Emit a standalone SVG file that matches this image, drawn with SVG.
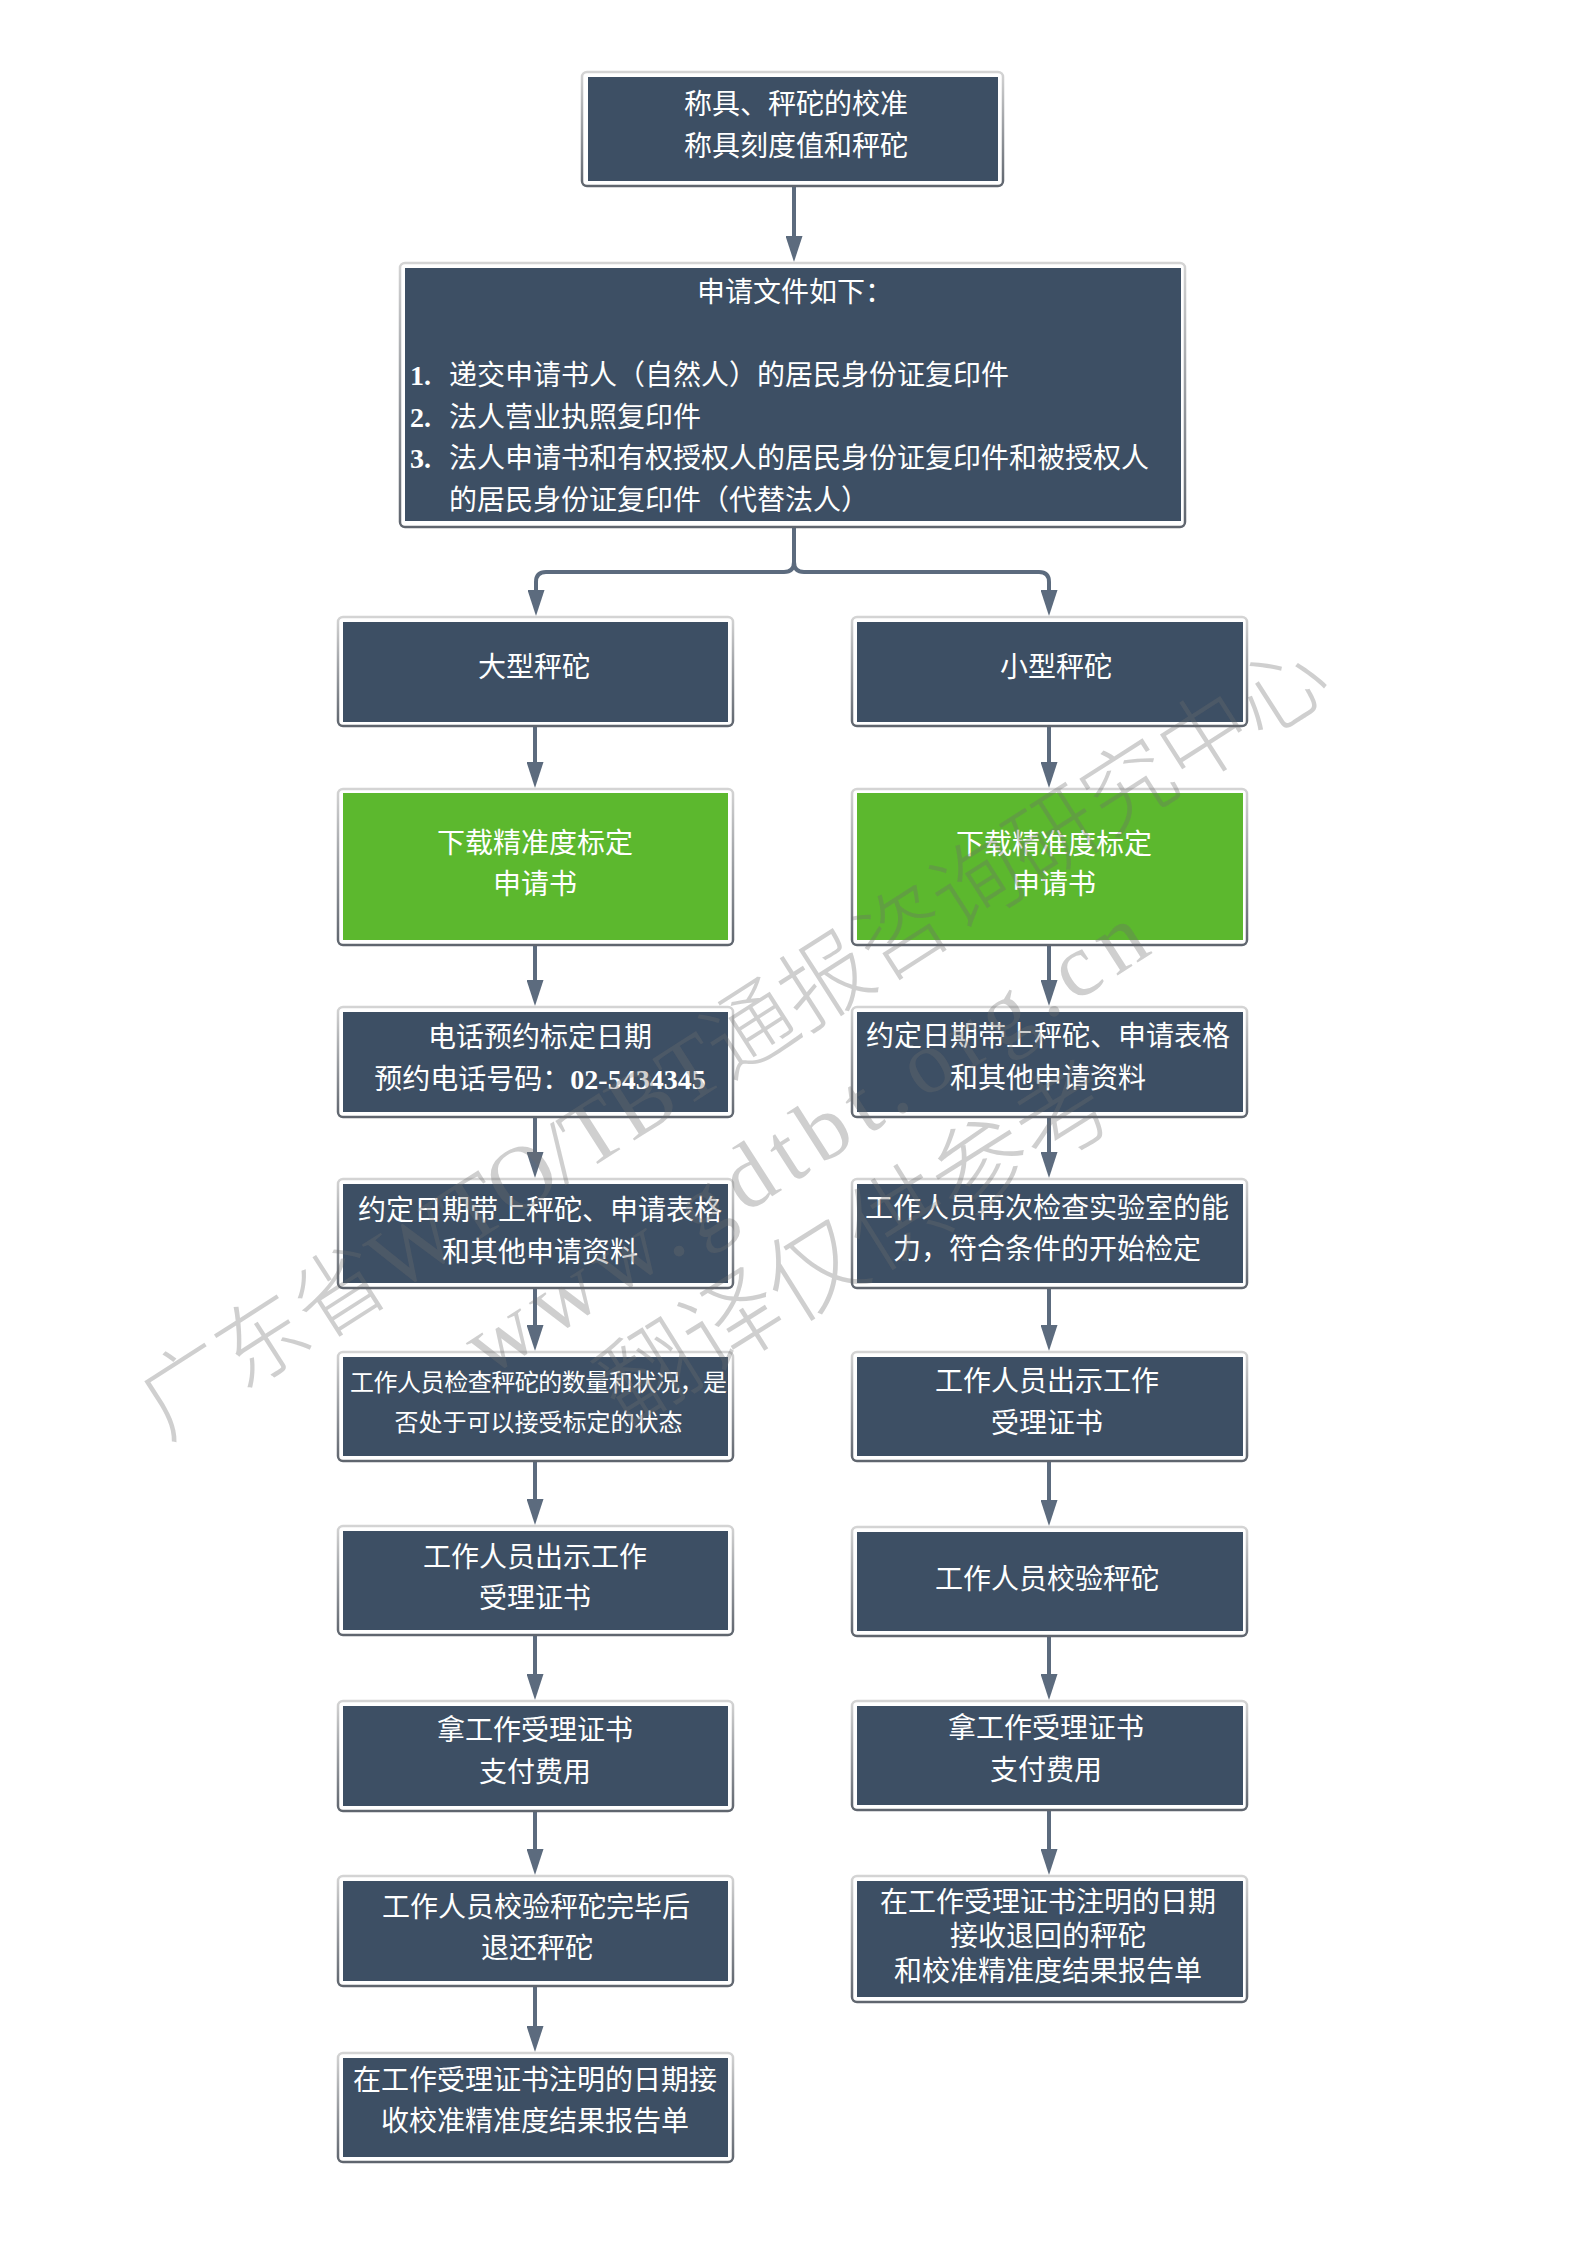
<svg xmlns="http://www.w3.org/2000/svg" width="1587" height="2245" viewBox="0 0 1587 2245">
<style>
.o{fill:#fff;stroke:url(#edge);stroke-width:2.5}
.d{fill:#3d4f64}
.g{fill:#5cb82e}
text{font-family:"Liberation Serif","Noto Sans CJK SC",sans-serif;font-size:28px;fill:#fff}
.c{text-anchor:middle}
.s{font-size:24px}
.n{font-weight:bold}
.l{fill:none;stroke:#5c6b7e;stroke-width:4;marker-end:url(#arr)}
.wm text{fill:#6e6e6e;fill-opacity:.33;font-size:90px;font-weight:300}
</style>
<defs>
<linearGradient id="edge" x1="0" y1="0" x2="0" y2="1"><stop offset="0" stop-color="#d4d4d4"/><stop offset="1" stop-color="#5f656e"/></linearGradient>
<marker id="arr" markerUnits="userSpaceOnUse" markerWidth="26" markerHeight="17" refX="0" refY="8.5" orient="auto"><path d="M0,0L26,8.5L0,17Z" fill="#5c6b7e"/></marker>
</defs>
<rect width="1587" height="2245" fill="#fff"/>
<g id="connectors">
<path class="l" d="M794,187V236"/>
<path class="l" d="M794,528V562Q794,572 784,572H546Q536,572 536,582V590"/>
<path class="l" d="M794,528V562Q794,572 804,572H1039Q1049,572 1049,582V590"/>
<path class="l" d="M535,727V762"/>
<path class="l" d="M535,946V980"/>
<path class="l" d="M535,1118V1152"/>
<path class="l" d="M535,1289V1325"/>
<path class="l" d="M535,1462V1499"/>
<path class="l" d="M535,1636V1674"/>
<path class="l" d="M535,1812V1849"/>
<path class="l" d="M535,1987V2026"/>
<path class="l" d="M1049,727V762"/>
<path class="l" d="M1049,946V980"/>
<path class="l" d="M1049,1118V1152"/>
<path class="l" d="M1049,1289V1325"/>
<path class="l" d="M1049,1462V1500"/>
<path class="l" d="M1049,1637V1674"/>
<path class="l" d="M1049,1811V1849"/>
</g>
<g id="n1"><rect class="o" x="582" y="72" width="421" height="114" rx="5"/><rect class="d" x="588" y="77" width="410" height="104"/>
<text class="c" x="796" y="114">称具、秤砣的校准</text><text class="c" x="796" y="156">称具刻度值和秤砣</text></g>
<g id="n2"><rect class="o" x="400" y="263" width="785" height="264" rx="5"/><rect class="d" x="405" y="268" width="776" height="253"/>
<text x="697" y="302">申请文件如下：</text>
<text class="n" x="410" y="385">1.</text><text x="449" y="385">递交申请书人（自然人）的居民身份证复印件</text>
<text class="n" x="410" y="427">2.</text><text x="449" y="427">法人营业执照复印件</text>
<text class="n" x="410" y="468">3.</text><text x="449" y="468">法人申请书和有权授权人的居民身份证复印件和被授权人</text>
<text x="449" y="510">的居民身份证复印件（代替法人）</text></g>
<g id="l1"><rect class="o" x="338" y="617" width="395" height="109" rx="5"/><rect class="d" x="343" y="622" width="385" height="100"/>
<text class="c" x="534" y="677">大型秤砣</text></g>
<g id="l2"><rect class="o" x="338" y="789" width="395" height="156" rx="5"/><rect class="g" x="343" y="793" width="385" height="147"/>
<text class="c" x="535" y="853">下载精准度标定</text><text class="c" x="535" y="894">申请书</text></g>
<g id="l3"><rect class="o" x="338" y="1007" width="395" height="110" rx="5"/><rect class="d" x="343" y="1012" width="385" height="100"/>
<text class="c" x="540" y="1047">电话预约标定日期</text><text class="c" x="540" y="1089">预约电话号码：<tspan class="n">02-5434345</tspan></text></g>
<g id="l4"><rect class="o" x="338" y="1179" width="395" height="109" rx="5"/><rect class="d" x="343" y="1184" width="385" height="99"/>
<text class="c" x="540" y="1220">约定日期带上秤砣、申请表格</text><text class="c" x="540" y="1262">和其他申请资料</text></g>
<g id="l5"><rect class="o" x="338" y="1352" width="395" height="109" rx="5"/><rect class="d" x="343" y="1357" width="385" height="99"/>
<text class="c s" x="538.5" y="1391" textLength="377">工作人员检查秤砣的数量和状况，是</text><text class="c s" x="538.5" y="1431">否处于可以接受标定的状态</text></g>
<g id="l6"><rect class="o" x="338" y="1526" width="395" height="109" rx="5"/><rect class="d" x="343" y="1531" width="385" height="99"/>
<text class="c" x="535" y="1567">工作人员出示工作</text><text class="c" x="535" y="1608">受理证书</text></g>
<g id="l7"><rect class="o" x="338" y="1701" width="395" height="110" rx="5"/><rect class="d" x="343" y="1706" width="385" height="100"/>
<text class="c" x="535" y="1740">拿工作受理证书</text><text class="c" x="535" y="1782">支付费用</text></g>
<g id="l8"><rect class="o" x="338" y="1876" width="395" height="110" rx="5"/><rect class="d" x="343" y="1881" width="385" height="100"/>
<text class="c" x="536" y="1917">工作人员校验秤砣完毕后</text><text class="c" x="537" y="1958">退还秤砣</text></g>
<g id="l9"><rect class="o" x="338" y="2053" width="395" height="109" rx="5"/><rect class="d" x="343" y="2058" width="385" height="99"/>
<text class="c" x="535" y="2090">在工作受理证书注明的日期接</text><text class="c" x="535" y="2131">收校准精准度结果报告单</text></g>
<g id="r1"><rect class="o" x="852" y="617" width="395" height="109" rx="5"/><rect class="d" x="857" y="622" width="386" height="100"/>
<text class="c" x="1056" y="677">小型秤砣</text></g>
<g id="r2"><rect class="o" x="852" y="789" width="395" height="156" rx="5"/><rect class="g" x="857" y="793" width="386" height="147"/>
<text class="c" x="1054" y="854">下载精准度标定</text><text class="c" x="1054" y="894">申请书</text></g>
<g id="r3"><rect class="o" x="852" y="1007" width="395" height="110" rx="5"/><rect class="d" x="857" y="1012" width="386" height="100"/>
<text class="c" x="1048" y="1046">约定日期带上秤砣、申请表格</text><text class="c" x="1048" y="1088">和其他申请资料</text></g>
<g id="r4"><rect class="o" x="852" y="1179" width="395" height="109" rx="5"/><rect class="d" x="857" y="1184" width="386" height="99"/>
<text class="c" x="1047" y="1218">工作人员再次检查实验室的能</text><text class="c" x="1047" y="1259">力，符合条件的开始检定</text></g>
<g id="r5"><rect class="o" x="852" y="1352" width="395" height="109" rx="5"/><rect class="d" x="857" y="1357" width="386" height="99"/>
<text class="c" x="1047" y="1391">工作人员出示工作</text><text class="c" x="1047" y="1433">受理证书</text></g>
<g id="r6"><rect class="o" x="852" y="1527" width="395" height="109" rx="5"/><rect class="d" x="857" y="1532" width="386" height="99"/>
<text class="c" x="1047" y="1589">工作人员校验秤砣</text></g>
<g id="r7"><rect class="o" x="852" y="1701" width="395" height="109" rx="5"/><rect class="d" x="857" y="1706" width="386" height="99"/>
<text class="c" x="1046" y="1738">拿工作受理证书</text><text class="c" x="1046" y="1780">支付费用</text></g>
<g id="r8"><rect class="o" x="852" y="1876" width="395" height="126" rx="5"/><rect class="d" x="857" y="1881" width="386" height="116"/>
<text class="c" x="1048" y="1912">在工作受理证书注明的日期</text><text class="c" x="1048" y="1946">接收退回的秤砣</text><text class="c" x="1048" y="1981">和校准精准度结果报告单</text></g>
<g class="wm">
<text transform="translate(166,1440) rotate(-32.6)">广东省WTO/TBT通报咨询研究中心</text>
<text transform="translate(488,1378) rotate(-32.6)" textLength="790">www.gdtbt.org.cn</text>
<text transform="translate(625,1429) rotate(-32)" style="font-size:98px">翻译仅供参考</text>
</g>
</svg>
